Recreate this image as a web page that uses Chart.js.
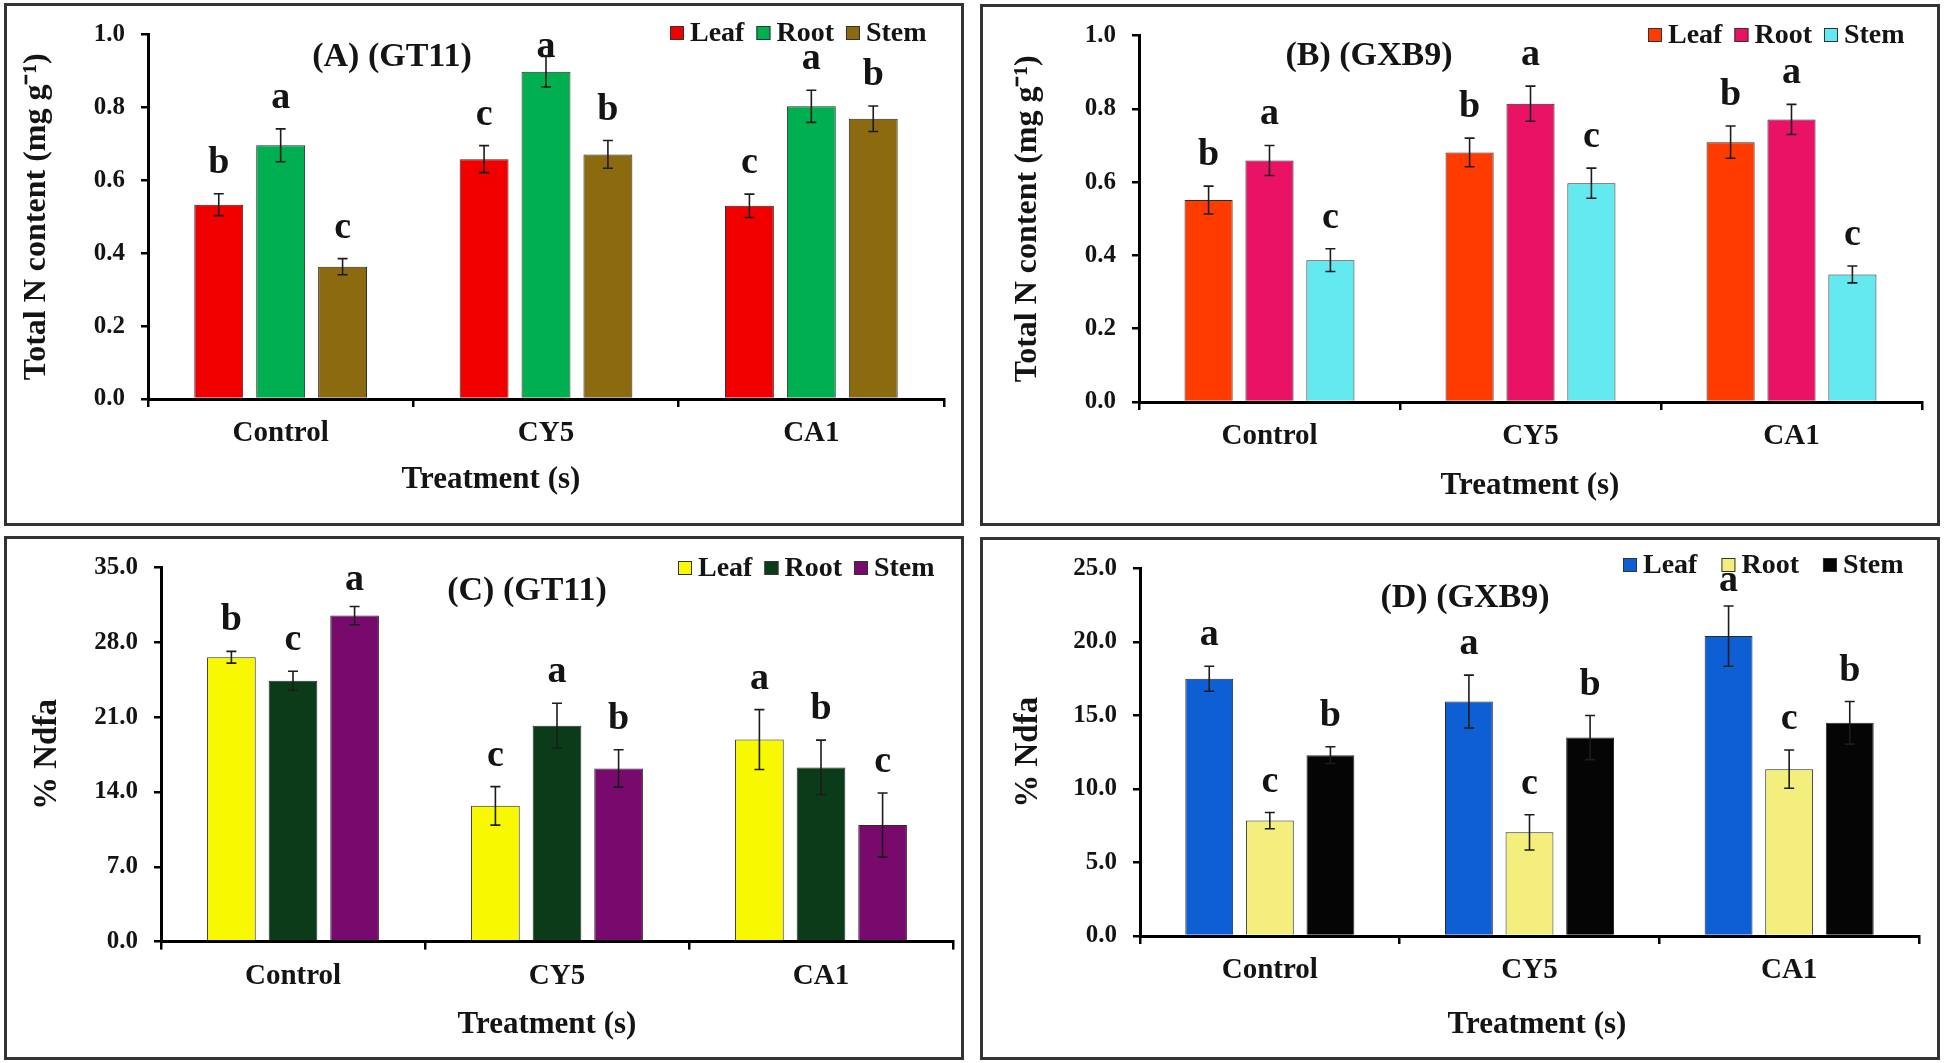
<!DOCTYPE html>
<html>
<head>
<meta charset="utf-8">
<script src="https://cdn.jsdelivr.net/npm/chart.js@4.4.1/dist/chart.umd.min.js"></script>
<style>
  body { margin: 0; background: #fff; width: 1946px; height: 1063px; position: relative; overflow: hidden; }
  .panel { position: absolute; border: 3px solid #333; box-sizing: border-box; background: #fff; }
  .panel canvas { display: block; }
</style>
</head>
<body>
<div class="panel" style="left:4px;top:3px;width:960px;height:523px"><canvas id="cA" width="954" height="517"></canvas></div>
<div class="panel" style="left:980px;top:4px;width:960px;height:522px"><canvas id="cB" width="954" height="516"></canvas></div>
<div class="panel" style="left:4px;top:536px;width:960px;height:524px"><canvas id="cC" width="954" height="518"></canvas></div>
<div class="panel" style="left:980px;top:537px;width:960px;height:523px"><canvas id="cD" width="954" height="517"></canvas></div>

<script>
const treatments = ['Control', 'CY5', 'CA1'];
const organs = ['Leaf', 'Root', 'Stem'];

// (A) total N, GT11 -- rows are Leaf, Root, Stem
const nGT11 = [[0.533, 0.658, 0.530], [0.696, 0.898, 0.803], [0.363, 0.671, 0.769]];
const nGT11Err = [[0.030, 0.037, 0.032], [0.045, 0.042, 0.044], [0.022, 0.038, 0.035]];
const nGT11Letters = [['b', 'c', 'c'], ['a', 'a', 'a'], ['c', 'b', 'b']];

// (B) total N, GXB9
const nGXB9 = [[0.551, 0.681, 0.709], [0.659, 0.814, 0.771], [0.387, 0.597, 0.348]];
const nGXB9Err = [[0.038, 0.039, 0.044], [0.041, 0.048, 0.041], [0.031, 0.041, 0.023]];
const nGXB9Letters = [['b', 'b', 'b'], ['a', 'a', 'a'], ['c', 'c', 'c']];

// (C) %Ndfa, GT11
const ndfaGT11 = [[26.6, 12.7, 18.9], [24.4, 20.2, 16.3], [30.5, 16.2, 10.9]];
const ndfaGT11Err = [[0.55, 1.8, 2.8], [0.9, 2.1, 2.55], [0.85, 1.75, 3.0]];
const ndfaGT11Letters = [['b', 'c', 'a'], ['c', 'a', 'b'], ['a', 'b', 'c']];

// (D) %Ndfa, GXB9
const ndfaGXB9 = [[17.5, 15.95, 20.4], [7.85, 7.05, 11.35], [12.3, 13.5, 14.5]];
const ndfaGXB9Err = [[0.85, 1.8, 2.05], [0.55, 1.2, 1.3], [0.57, 1.5, 1.45]];
const ndfaGXB9Letters = [['a', 'a', 'a'], ['c', 'c', 'c'], ['b', 'b', 'b']];

const SERIF = '"Liberation Serif", "Times New Roman", serif';
const INK = '#141414';

function annotator(cfg) {
  return {
    id: 'annot_' + cfg.id,
    afterDatasetsDraw(chart) {
      const ctx = chart.ctx, y = chart.scales.y, area = chart.chartArea;
      ctx.save();
      chart.data.datasets.forEach((ds, i) => {
        chart.getDatasetMeta(i).data.forEach((bar, j) => {
          const v = ds.data[j], e = cfg.err[i][j];
          const hi = y.getPixelForValue(v + e), lo = y.getPixelForValue(v - e);
          ctx.strokeStyle = '#1c1c1c';
          ctx.lineWidth = 1.6;
          ctx.beginPath();
          ctx.moveTo(bar.x, lo); ctx.lineTo(bar.x, hi);
          ctx.moveTo(bar.x - 5, hi); ctx.lineTo(bar.x + 5, hi);
          ctx.moveTo(bar.x - 5, lo); ctx.lineTo(bar.x + 5, lo);
          ctx.stroke();
          ctx.fillStyle = INK;
          ctx.font = 'bold 38px ' + SERIF;
          ctx.textAlign = 'center';
          ctx.textBaseline = 'alphabetic';
          ctx.fillText(cfg.letters[i][j], bar.x, Math.max(hi - 21, area.top + 22));
        });
      });

      // panel caption and x-axis title
      ctx.textBaseline = 'middle';
      ctx.textAlign = 'center';
      ctx.font = 'bold 34px ' + SERIF;
      ctx.fillText(cfg.caption, cfg.capX, cfg.capY);
      ctx.font = 'bold 31px ' + SERIF;
      ctx.fillText('Treatment (s)', cfg.xtX, cfg.xtY);

      // legend
      ctx.font = 'bold 28px ' + SERIF;
      ctx.textAlign = 'left';
      let x = cfg.legX;
      chart.data.datasets.forEach(ds => {
        ctx.fillStyle = ds.backgroundColor;
        ctx.fillRect(x, cfg.legY - 7, 14, 14);
        ctx.strokeStyle = '#333';
        ctx.lineWidth = 1;
        ctx.strokeRect(x + 0.5, cfg.legY - 6.5, 13, 13);
        ctx.fillStyle = INK;
        ctx.fillText(ds.label, x + 20, cfg.legY + 1);
        x += 20 + ctx.measureText(ds.label).width + cfg.legGap;
      });
      ctx.restore();
    }
  };
}

function makeChart(cfg) {
  return new Chart(document.getElementById(cfg.id), {
    type: 'bar',
    data: {
      labels: treatments,
      datasets: organs.map((name, i) => ({
        label: name,
        data: cfg.values[i],
        backgroundColor: cfg.colors[i],
        borderColor: '#2a2a2a',
        borderWidth: 1,
        categoryPercentage: 0.70,
        barPercentage: 0.79
      }))
    },
    options: {
      responsive: false,
      animation: false,
      layout: { padding: { left: 0, top: cfg.top, right: cfg.padRight, bottom: 0 } },
      plugins: { legend: { display: false }, tooltip: { enabled: false } },
      scales: {
        x: {
          grid: { offset: true, drawOnChartArea: false, drawTicks: true, tickLength: 8, color: '#000', lineWidth: 2.5 },
          border: { display: true, color: '#000', width: 3 },
          ticks: { color: INK, padding: 9.6, font: { family: SERIF, weight: 'bold', size: 29 } },
          afterFit: s => { s.height = cfg.xHeight; }
        },
        y: {
          min: 0,
          max: cfg.yMax,
          grid: { drawOnChartArea: false, drawTicks: true, tickLength: 7, color: '#000', lineWidth: 2.5 },
          border: { display: true, color: '#000', width: 3 },
          ticks: {
            stepSize: cfg.yStep, color: INK, padding: 16,
            font: { family: SERIF, weight: 'bold', size: 25, lineHeight: 1 },
            callback: v => Number(v).toFixed(1)
          },
          title: {
            display: true, text: cfg.yTitle, color: INK,
            font: { family: SERIF, weight: 'bold', size: cfg.yTitleSize },
            padding: { top: cfg.yTitlePad, bottom: 0 }
          },
          afterFit: s => { s.width = cfg.left; }
        }
      }
    },
    plugins: [annotator(cfg)]
  });
}

makeChart({
  id: 'cA', values: nGT11, err: nGT11Err, letters: nGT11Letters,
  colors: ['#f20000', '#00b050', '#8b6a10'],
  yMax: 1.0, yStep: 0.2, yTitle: 'Total N content (mg g\u207B\u00B9)', yTitleSize: 32,
  left: 141, top: 15, padRight: 17, xHeight: 124, yTitlePad: 10.8,
  xtX: 484, xtY: 474,
  caption: '(A) (GT11)', capX: 385, capY: 51, legX: 663, legY: 27, legGap: 12
});

makeChart({
  id: 'cB', values: nGXB9, err: nGXB9Err, letters: nGXB9Letters,
  colors: ['#ff3b00', '#ea1264', '#62eaf0'],
  yMax: 1.0, yStep: 0.2, yTitle: 'Total N content (mg g\u207B\u00B9)', yTitleSize: 32,
  left: 156, top: 13, padRight: 15, xHeight: 121, yTitlePad: 25.8,
  xtX: 547, xtY: 479,
  caption: '(B) (GXB9)', capX: 386, capY: 49, legX: 665, legY: 28, legGap: 12
});

makeChart({
  id: 'cC', values: ndfaGT11, err: ndfaGT11Err, letters: ndfaGT11Letters,
  colors: ['#f8f800', '#0c3b19', '#780a6e'],
  yMax: 35, yStep: 7, yTitle: '% Ndfa', yTitleSize: 33,
  left: 154, top: 16.5, padRight: 8, xHeight: 115.4, yTitlePad: 20.2,
  xtX: 540, xtY: 486,
  caption: '(C) (GT11)', capX: 520, capY: 52, legX: 671, legY: 29, legGap: 12
});

makeChart({
  id: 'cD', values: ndfaGXB9, err: ndfaGXB9Err, letters: ndfaGXB9Letters,
  colors: ['#0e5fd4', '#f4ee7c', '#050505'],
  yMax: 25, yStep: 5, yTitle: '% Ndfa', yTitleSize: 33,
  left: 157, top: 15.5, padRight: 18, xHeight: 121, yTitlePad: 25.2,
  xtX: 554, xtY: 485,
  caption: '(D) (GXB9)', capX: 482, capY: 58, legX: 640, legY: 25, legGap: 24
});
</script>
</body>
</html>
